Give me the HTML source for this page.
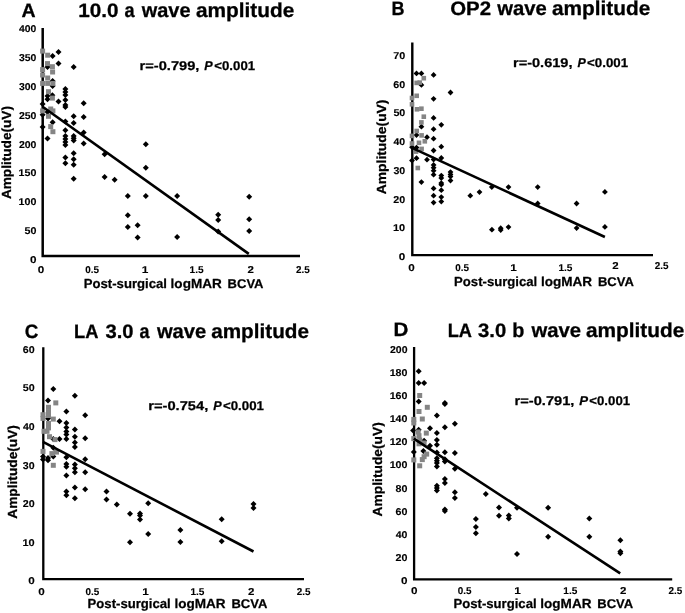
<!DOCTYPE html>
<html lang="en">
<head>
<meta charset="utf-8">
<title>ERG amplitude vs post-surgical logMAR BCVA</title>
<style>
html,body{margin:0;padding:0;background:#fff;}
body{width:685px;height:613px;overflow:hidden;}
svg{display:block;}
text{font-family:"Liberation Sans", sans-serif;font-weight:bold;fill:#000;stroke:#000;stroke-linejoin:round;text-rendering:geometricPrecision;}
.t{stroke-width:0.3;}
.l{stroke-width:0.25;}
.k{stroke-width:0.12;}
.ax{stroke:#000;fill:none;stroke-linecap:butt;}
.reg{stroke:#000;stroke-width:2.6;fill:none;stroke-linecap:butt;}
.d{fill:#000;}
.g{fill:#858585;}
</style>
</head>
<body>
<svg width="685" height="613" viewBox="0 0 685 613">
<rect width="685" height="613" fill="#fff"/>
<g id="panel-A">
<path class="ax" stroke-width="2.5" d="M42.7 28.0V256.0H300.0"/>
<g class="d">
<path d="M58.5 49.0l3.0 3.0l-3.0 3.0l-3.0 -3.0z"/><path d="M52.6 53.0l3.0 3.0l-3.0 3.0l-3.0 -3.0z"/><path d="M58.5 60.6l3.0 3.0l-3.0 3.0l-3.0 -3.0z"/><path d="M73.7 64.1l3.0 3.0l-3.0 3.0l-3.0 -3.0z"/><path d="M47.5 64.0l3.0 3.0l-3.0 3.0l-3.0 -3.0z"/><path d="M52.6 78.0l3.0 3.0l-3.0 3.0l-3.0 -3.0z"/><path d="M52.6 83.0l3.0 3.0l-3.0 3.0l-3.0 -3.0z"/><path d="M65.4 86.0l3.0 3.0l-3.0 3.0l-3.0 -3.0z"/><path d="M65.4 89.0l3.0 3.0l-3.0 3.0l-3.0 -3.0z"/><path d="M65.4 92.0l3.0 3.0l-3.0 3.0l-3.0 -3.0z"/><path d="M47.5 93.0l3.0 3.0l-3.0 3.0l-3.0 -3.0z"/><path d="M52.4 92.2l3.0 3.0l-3.0 3.0l-3.0 -3.0z"/><path d="M47.5 96.3l3.0 3.0l-3.0 3.0l-3.0 -3.0z"/><path d="M58.5 98.5l3.0 3.0l-3.0 3.0l-3.0 -3.0z"/><path d="M65.4 97.0l3.0 3.0l-3.0 3.0l-3.0 -3.0z"/><path d="M83.7 100.3l3.0 3.0l-3.0 3.0l-3.0 -3.0z"/><path d="M65.4 102.0l3.0 3.0l-3.0 3.0l-3.0 -3.0z"/><path d="M65.4 104.0l3.0 3.0l-3.0 3.0l-3.0 -3.0z"/><path d="M42.6 101.0l3.0 3.0l-3.0 3.0l-3.0 -3.0z"/><path d="M42.6 111.8l3.0 3.0l-3.0 3.0l-3.0 -3.0z"/><path d="M47.5 108.9l3.0 3.0l-3.0 3.0l-3.0 -3.0z"/><path d="M73.7 113.3l3.0 3.0l-3.0 3.0l-3.0 -3.0z"/><path d="M83.7 114.0l3.0 3.0l-3.0 3.0l-3.0 -3.0z"/><path d="M52.6 119.2l3.0 3.0l-3.0 3.0l-3.0 -3.0z"/><path d="M65.4 118.4l3.0 3.0l-3.0 3.0l-3.0 -3.0z"/><path d="M73.7 119.9l3.0 3.0l-3.0 3.0l-3.0 -3.0z"/><path d="M42.6 124.0l3.0 3.0l-3.0 3.0l-3.0 -3.0z"/><path d="M65.4 127.2l3.0 3.0l-3.0 3.0l-3.0 -3.0z"/><path d="M83.7 129.4l3.0 3.0l-3.0 3.0l-3.0 -3.0z"/><path d="M47.5 135.6l3.0 3.0l-3.0 3.0l-3.0 -3.0z"/><path d="M65.4 133.1l3.0 3.0l-3.0 3.0l-3.0 -3.0z"/><path d="M65.4 136.0l3.0 3.0l-3.0 3.0l-3.0 -3.0z"/><path d="M65.4 139.0l3.0 3.0l-3.0 3.0l-3.0 -3.0z"/><path d="M65.4 141.9l3.0 3.0l-3.0 3.0l-3.0 -3.0z"/><path d="M73.7 133.1l3.0 3.0l-3.0 3.0l-3.0 -3.0z"/><path d="M73.7 135.3l3.0 3.0l-3.0 3.0l-3.0 -3.0z"/><path d="M73.7 137.5l3.0 3.0l-3.0 3.0l-3.0 -3.0z"/><path d="M83.7 140.5l3.0 3.0l-3.0 3.0l-3.0 -3.0z"/><path d="M73.7 150.3l3.0 3.0l-3.0 3.0l-3.0 -3.0z"/><path d="M65.4 154.4l3.0 3.0l-3.0 3.0l-3.0 -3.0z"/><path d="M73.7 156.2l3.0 3.0l-3.0 3.0l-3.0 -3.0z"/><path d="M65.4 160.3l3.0 3.0l-3.0 3.0l-3.0 -3.0z"/><path d="M73.7 161.7l3.0 3.0l-3.0 3.0l-3.0 -3.0z"/><path d="M104.6 151.2l3.0 3.0l-3.0 3.0l-3.0 -3.0z"/><path d="M73.7 175.7l3.0 3.0l-3.0 3.0l-3.0 -3.0z"/><path d="M104.6 173.9l3.0 3.0l-3.0 3.0l-3.0 -3.0z"/><path d="M114.6 176.7l3.0 3.0l-3.0 3.0l-3.0 -3.0z"/><path d="M145.8 141.2l3.0 3.0l-3.0 3.0l-3.0 -3.0z"/><path d="M145.8 164.7l3.0 3.0l-3.0 3.0l-3.0 -3.0z"/><path d="M145.8 192.9l3.0 3.0l-3.0 3.0l-3.0 -3.0z"/><path d="M127.8 192.9l3.0 3.0l-3.0 3.0l-3.0 -3.0z"/><path d="M127.8 212.2l3.0 3.0l-3.0 3.0l-3.0 -3.0z"/><path d="M127.8 223.9l3.0 3.0l-3.0 3.0l-3.0 -3.0z"/><path d="M137.6 222.3l3.0 3.0l-3.0 3.0l-3.0 -3.0z"/><path d="M137.6 234.5l3.0 3.0l-3.0 3.0l-3.0 -3.0z"/><path d="M177.1 192.9l3.0 3.0l-3.0 3.0l-3.0 -3.0z"/><path d="M177.1 234.0l3.0 3.0l-3.0 3.0l-3.0 -3.0z"/><path d="M218.2 211.7l3.0 3.0l-3.0 3.0l-3.0 -3.0z"/><path d="M218.2 216.9l3.0 3.0l-3.0 3.0l-3.0 -3.0z"/><path d="M218.2 228.6l3.0 3.0l-3.0 3.0l-3.0 -3.0z"/><path d="M249.2 193.8l3.0 3.0l-3.0 3.0l-3.0 -3.0z"/><path d="M249.2 216.2l3.0 3.0l-3.0 3.0l-3.0 -3.0z"/><path d="M249.2 228.1l3.0 3.0l-3.0 3.0l-3.0 -3.0z"/>
</g>
<g class="g">
<rect x="40.1" y="48.6" width="5.0" height="5.0"/><rect x="45.2" y="52.7" width="5.0" height="5.0"/><rect x="45.0" y="61.1" width="5.0" height="5.0"/><rect x="49.9" y="64.2" width="5.0" height="5.0"/><rect x="40.1" y="67.1" width="5.0" height="5.0"/><rect x="50.1" y="69.5" width="5.0" height="5.0"/><rect x="40.1" y="72.5" width="5.0" height="5.0"/><rect x="45.2" y="75.5" width="5.0" height="5.0"/><rect x="40.1" y="80.9" width="5.0" height="5.0"/><rect x="45.2" y="80.9" width="5.0" height="5.0"/><rect x="50.4" y="80.9" width="5.0" height="5.0"/><rect x="46.0" y="89.2" width="5.0" height="5.0"/><rect x="49.9" y="95.6" width="5.0" height="5.0"/><rect x="48.2" y="106.5" width="5.0" height="5.0"/><rect x="50.4" y="108.4" width="5.0" height="5.0"/><rect x="40.1" y="108.4" width="5.0" height="5.0"/><rect x="46.0" y="113.8" width="5.0" height="5.0"/><rect x="48.2" y="124.1" width="5.0" height="5.0"/><rect x="50.4" y="129.2" width="5.0" height="5.0"/>
</g>
<path class="reg" d="M42.6 106.7L248.8 253.9"/>
</g>
<g id="panel-B">
<path class="ax" stroke-width="2.4" d="M412.3 42.6V255.1H653.0"/>
<g class="d">
<path d="M416.5 70.5l2.9 2.9l-2.9 2.9l-2.9 -2.9z"/><path d="M421.4 70.5l2.9 2.9l-2.9 2.9l-2.9 -2.9z"/><path d="M433.6 72.0l2.9 2.9l-2.9 2.9l-2.9 -2.9z"/><path d="M421.4 82.0l2.9 2.9l-2.9 2.9l-2.9 -2.9z"/><path d="M450.5 89.6l2.9 2.9l-2.9 2.9l-2.9 -2.9z"/><path d="M433.6 95.9l2.9 2.9l-2.9 2.9l-2.9 -2.9z"/><path d="M433.6 115.0l2.9 2.9l-2.9 2.9l-2.9 -2.9z"/><path d="M441.3 121.9l2.9 2.9l-2.9 2.9l-2.9 -2.9z"/><path d="M421.4 123.8l2.9 2.9l-2.9 2.9l-2.9 -2.9z"/><path d="M433.6 126.3l2.9 2.9l-2.9 2.9l-2.9 -2.9z"/><path d="M416.5 132.2l2.9 2.9l-2.9 2.9l-2.9 -2.9z"/><path d="M427.0 134.3l2.9 2.9l-2.9 2.9l-2.9 -2.9z"/><path d="M433.6 135.8l2.9 2.9l-2.9 2.9l-2.9 -2.9z"/><path d="M441.3 143.8l2.9 2.9l-2.9 2.9l-2.9 -2.9z"/><path d="M412.0 144.3l2.9 2.9l-2.9 2.9l-2.9 -2.9z"/><path d="M416.5 144.7l2.9 2.9l-2.9 2.9l-2.9 -2.9z"/><path d="M433.6 147.6l2.9 2.9l-2.9 2.9l-2.9 -2.9z"/><path d="M441.3 155.1l2.9 2.9l-2.9 2.9l-2.9 -2.9z"/><path d="M416.5 155.3l2.9 2.9l-2.9 2.9l-2.9 -2.9z"/><path d="M427.0 156.8l2.9 2.9l-2.9 2.9l-2.9 -2.9z"/><path d="M433.6 156.6l2.9 2.9l-2.9 2.9l-2.9 -2.9z"/><path d="M412.0 157.6l2.9 2.9l-2.9 2.9l-2.9 -2.9z"/><path d="M433.6 162.0l2.9 2.9l-2.9 2.9l-2.9 -2.9z"/><path d="M433.6 164.8l2.9 2.9l-2.9 2.9l-2.9 -2.9z"/><path d="M433.6 167.8l2.9 2.9l-2.9 2.9l-2.9 -2.9z"/><path d="M433.6 171.8l2.9 2.9l-2.9 2.9l-2.9 -2.9z"/><path d="M441.3 172.7l2.9 2.9l-2.9 2.9l-2.9 -2.9z"/><path d="M441.3 175.2l2.9 2.9l-2.9 2.9l-2.9 -2.9z"/><path d="M441.3 180.2l2.9 2.9l-2.9 2.9l-2.9 -2.9z"/><path d="M441.3 181.8l2.9 2.9l-2.9 2.9l-2.9 -2.9z"/><path d="M450.5 169.2l2.9 2.9l-2.9 2.9l-2.9 -2.9z"/><path d="M450.5 171.5l2.9 2.9l-2.9 2.9l-2.9 -2.9z"/><path d="M450.5 173.7l2.9 2.9l-2.9 2.9l-2.9 -2.9z"/><path d="M450.5 177.7l2.9 2.9l-2.9 2.9l-2.9 -2.9z"/><path d="M421.4 179.2l2.9 2.9l-2.9 2.9l-2.9 -2.9z"/><path d="M433.6 185.5l2.9 2.9l-2.9 2.9l-2.9 -2.9z"/><path d="M441.3 187.3l2.9 2.9l-2.9 2.9l-2.9 -2.9z"/><path d="M433.6 192.8l2.9 2.9l-2.9 2.9l-2.9 -2.9z"/><path d="M441.3 194.2l2.9 2.9l-2.9 2.9l-2.9 -2.9z"/><path d="M433.6 199.7l2.9 2.9l-2.9 2.9l-2.9 -2.9z"/><path d="M441.3 198.7l2.9 2.9l-2.9 2.9l-2.9 -2.9z"/><path d="M470.3 192.8l2.9 2.9l-2.9 2.9l-2.9 -2.9z"/><path d="M479.5 189.2l2.9 2.9l-2.9 2.9l-2.9 -2.9z"/><path d="M491.8 184.2l2.9 2.9l-2.9 2.9l-2.9 -2.9z"/><path d="M508.5 184.2l2.9 2.9l-2.9 2.9l-2.9 -2.9z"/><path d="M537.7 184.2l2.9 2.9l-2.9 2.9l-2.9 -2.9z"/><path d="M537.7 200.6l2.9 2.9l-2.9 2.9l-2.9 -2.9z"/><path d="M576.6 200.6l2.9 2.9l-2.9 2.9l-2.9 -2.9z"/><path d="M604.9 189.0l2.9 2.9l-2.9 2.9l-2.9 -2.9z"/><path d="M491.9 226.8l2.9 2.9l-2.9 2.9l-2.9 -2.9z"/><path d="M500.7 225.3l2.9 2.9l-2.9 2.9l-2.9 -2.9z"/><path d="M500.7 227.2l2.9 2.9l-2.9 2.9l-2.9 -2.9z"/><path d="M508.5 224.2l2.9 2.9l-2.9 2.9l-2.9 -2.9z"/><path d="M576.6 225.2l2.9 2.9l-2.9 2.9l-2.9 -2.9z"/><path d="M604.9 224.0l2.9 2.9l-2.9 2.9l-2.9 -2.9z"/>
</g>
<g class="g">
<rect x="421.5" y="75.9" width="4.6" height="4.6"/><rect x="414.4" y="80.6" width="4.6" height="4.6"/><rect x="417.4" y="80.3" width="4.6" height="4.6"/><rect x="414.4" y="93.5" width="4.6" height="4.6"/><rect x="409.7" y="95.7" width="4.6" height="4.6"/><rect x="409.7" y="102.0" width="4.6" height="4.6"/><rect x="414.7" y="107.0" width="4.6" height="4.6"/><rect x="419.1" y="106.4" width="4.6" height="4.6"/><rect x="421.5" y="114.4" width="4.6" height="4.6"/><rect x="419.1" y="120.1" width="4.6" height="4.6"/><rect x="414.4" y="128.7" width="4.6" height="4.6"/><rect x="409.7" y="133.6" width="4.6" height="4.6"/><rect x="419.3" y="133.1" width="4.6" height="4.6"/><rect x="422.5" y="139.0" width="4.6" height="4.6"/><rect x="416.7" y="140.5" width="4.6" height="4.6"/><rect x="409.7" y="141.2" width="4.6" height="4.6"/><rect x="419.3" y="146.6" width="4.6" height="4.6"/><rect x="413.7" y="149.3" width="4.6" height="4.6"/><rect x="415.5" y="165.7" width="4.6" height="4.6"/>
</g>
<path class="reg" d="M412.0 147.9L604.9 237.0"/>
</g>
<g id="panel-C">
<path class="ax" stroke-width="2.3" d="M43.3 347.3V579.2H304.0"/>
<g class="d">
<path d="M53.3 385.9l3.0 3.0l-3.0 3.0l-3.0 -3.0z"/><path d="M74.9 392.8l3.0 3.0l-3.0 3.0l-3.0 -3.0z"/><path d="M48.0 397.5l3.0 3.0l-3.0 3.0l-3.0 -3.0z"/><path d="M66.4 408.4l3.0 3.0l-3.0 3.0l-3.0 -3.0z"/><path d="M85.2 412.2l3.0 3.0l-3.0 3.0l-3.0 -3.0z"/><path d="M48.0 415.5l3.0 3.0l-3.0 3.0l-3.0 -3.0z"/><path d="M59.5 418.2l3.0 3.0l-3.0 3.0l-3.0 -3.0z"/><path d="M66.4 419.9l3.0 3.0l-3.0 3.0l-3.0 -3.0z"/><path d="M66.4 424.4l3.0 3.0l-3.0 3.0l-3.0 -3.0z"/><path d="M74.9 426.5l3.0 3.0l-3.0 3.0l-3.0 -3.0z"/><path d="M66.4 428.6l3.0 3.0l-3.0 3.0l-3.0 -3.0z"/><path d="M66.4 431.5l3.0 3.0l-3.0 3.0l-3.0 -3.0z"/><path d="M66.4 435.9l3.0 3.0l-3.0 3.0l-3.0 -3.0z"/><path d="M74.9 433.7l3.0 3.0l-3.0 3.0l-3.0 -3.0z"/><path d="M85.2 435.2l3.0 3.0l-3.0 3.0l-3.0 -3.0z"/><path d="M59.5 435.9l3.0 3.0l-3.0 3.0l-3.0 -3.0z"/><path d="M53.3 435.9l3.0 3.0l-3.0 3.0l-3.0 -3.0z"/><path d="M74.9 439.6l3.0 3.0l-3.0 3.0l-3.0 -3.0z"/><path d="M74.9 444.0l3.0 3.0l-3.0 3.0l-3.0 -3.0z"/><path d="M53.3 444.7l3.0 3.0l-3.0 3.0l-3.0 -3.0z"/><path d="M53.3 453.5l3.0 3.0l-3.0 3.0l-3.0 -3.0z"/><path d="M43.0 453.5l3.0 3.0l-3.0 3.0l-3.0 -3.0z"/><path d="M43.0 456.5l3.0 3.0l-3.0 3.0l-3.0 -3.0z"/><path d="M48.0 455.0l3.0 3.0l-3.0 3.0l-3.0 -3.0z"/><path d="M48.0 457.2l3.0 3.0l-3.0 3.0l-3.0 -3.0z"/><path d="M66.4 454.3l3.0 3.0l-3.0 3.0l-3.0 -3.0z"/><path d="M85.2 456.2l3.0 3.0l-3.0 3.0l-3.0 -3.0z"/><path d="M66.4 460.9l3.0 3.0l-3.0 3.0l-3.0 -3.0z"/><path d="M66.4 463.8l3.0 3.0l-3.0 3.0l-3.0 -3.0z"/><path d="M74.9 461.6l3.0 3.0l-3.0 3.0l-3.0 -3.0z"/><path d="M74.9 465.3l3.0 3.0l-3.0 3.0l-3.0 -3.0z"/><path d="M74.9 469.2l3.0 3.0l-3.0 3.0l-3.0 -3.0z"/><path d="M85.2 469.2l3.0 3.0l-3.0 3.0l-3.0 -3.0z"/><path d="M66.4 472.5l3.0 3.0l-3.0 3.0l-3.0 -3.0z"/><path d="M74.9 484.6l3.0 3.0l-3.0 3.0l-3.0 -3.0z"/><path d="M66.4 488.6l3.0 3.0l-3.0 3.0l-3.0 -3.0z"/><path d="M66.4 492.3l3.0 3.0l-3.0 3.0l-3.0 -3.0z"/><path d="M85.2 486.3l3.0 3.0l-3.0 3.0l-3.0 -3.0z"/><path d="M74.9 495.3l3.0 3.0l-3.0 3.0l-3.0 -3.0z"/><path d="M106.5 488.6l3.0 3.0l-3.0 3.0l-3.0 -3.0z"/><path d="M106.5 496.4l3.0 3.0l-3.0 3.0l-3.0 -3.0z"/><path d="M116.8 501.5l3.0 3.0l-3.0 3.0l-3.0 -3.0z"/><path d="M130.0 510.8l3.0 3.0l-3.0 3.0l-3.0 -3.0z"/><path d="M130.0 539.2l3.0 3.0l-3.0 3.0l-3.0 -3.0z"/><path d="M140.0 510.5l3.0 3.0l-3.0 3.0l-3.0 -3.0z"/><path d="M140.0 512.5l3.0 3.0l-3.0 3.0l-3.0 -3.0z"/><path d="M140.0 516.5l3.0 3.0l-3.0 3.0l-3.0 -3.0z"/><path d="M148.2 500.3l3.0 3.0l-3.0 3.0l-3.0 -3.0z"/><path d="M148.2 531.1l3.0 3.0l-3.0 3.0l-3.0 -3.0z"/><path d="M180.4 526.9l3.0 3.0l-3.0 3.0l-3.0 -3.0z"/><path d="M180.4 539.1l3.0 3.0l-3.0 3.0l-3.0 -3.0z"/><path d="M221.7 516.3l3.0 3.0l-3.0 3.0l-3.0 -3.0z"/><path d="M221.7 538.2l3.0 3.0l-3.0 3.0l-3.0 -3.0z"/><path d="M253.5 501.0l3.0 3.0l-3.0 3.0l-3.0 -3.0z"/><path d="M253.5 505.0l3.0 3.0l-3.0 3.0l-3.0 -3.0z"/>
</g>
<g class="g">
<rect x="46.0" y="413.0" width="5.0" height="5.0"/><rect x="53.3" y="400.4" width="5.0" height="5.0"/><rect x="46.0" y="404.8" width="5.0" height="5.0"/><rect x="46.0" y="409.2" width="5.0" height="5.0"/><rect x="40.5" y="412.2" width="5.0" height="5.0"/><rect x="40.5" y="415.9" width="5.0" height="5.0"/><rect x="50.8" y="416.6" width="5.0" height="5.0"/><rect x="46.0" y="421.0" width="5.0" height="5.0"/><rect x="46.0" y="425.4" width="5.0" height="5.0"/><rect x="41.5" y="428.8" width="5.0" height="5.0"/><rect x="44.5" y="428.8" width="5.0" height="5.0"/><rect x="47.0" y="434.2" width="5.0" height="5.0"/><rect x="52.5" y="437.1" width="5.0" height="5.0"/><rect x="40.5" y="448.9" width="5.0" height="5.0"/><rect x="54.0" y="449.6" width="5.0" height="5.0"/><rect x="49.4" y="451.1" width="5.0" height="5.0"/><rect x="50.8" y="462.8" width="5.0" height="5.0"/>
</g>
<path class="reg" d="M43.0 441.9L253.5 551.5"/>
</g>
<g id="panel-D">
<path class="ax" stroke-width="2.3" d="M414.1 346.9V579.3H672.2"/>
<g class="d">
<path d="M418.7 368.3l3.0 3.0l-3.0 3.0l-3.0 -3.0z"/><path d="M418.7 380.0l3.0 3.0l-3.0 3.0l-3.0 -3.0z"/><path d="M424.1 380.0l3.0 3.0l-3.0 3.0l-3.0 -3.0z"/><path d="M418.7 398.4l3.0 3.0l-3.0 3.0l-3.0 -3.0z"/><path d="M444.9 399.9l3.0 3.0l-3.0 3.0l-3.0 -3.0z"/><path d="M444.9 400.9l3.0 3.0l-3.0 3.0l-3.0 -3.0z"/><path d="M436.9 412.6l3.0 3.0l-3.0 3.0l-3.0 -3.0z"/><path d="M454.9 420.7l3.0 3.0l-3.0 3.0l-3.0 -3.0z"/><path d="M444.9 424.2l3.0 3.0l-3.0 3.0l-3.0 -3.0z"/><path d="M430.0 425.3l3.0 3.0l-3.0 3.0l-3.0 -3.0z"/><path d="M418.7 426.8l3.0 3.0l-3.0 3.0l-3.0 -3.0z"/><path d="M413.1 427.6l3.0 3.0l-3.0 3.0l-3.0 -3.0z"/><path d="M436.9 430.1l3.0 3.0l-3.0 3.0l-3.0 -3.0z"/><path d="M436.9 437.1l3.0 3.0l-3.0 3.0l-3.0 -3.0z"/><path d="M424.1 437.8l3.0 3.0l-3.0 3.0l-3.0 -3.0z"/><path d="M436.9 441.8l3.0 3.0l-3.0 3.0l-3.0 -3.0z"/><path d="M430.0 442.7l3.0 3.0l-3.0 3.0l-3.0 -3.0z"/><path d="M413.8 448.9l3.0 3.0l-3.0 3.0l-3.0 -3.0z"/><path d="M423.4 448.1l3.0 3.0l-3.0 3.0l-3.0 -3.0z"/><path d="M436.9 449.6l3.0 3.0l-3.0 3.0l-3.0 -3.0z"/><path d="M444.9 449.3l3.0 3.0l-3.0 3.0l-3.0 -3.0z"/><path d="M454.9 449.9l3.0 3.0l-3.0 3.0l-3.0 -3.0z"/><path d="M436.9 455.2l3.0 3.0l-3.0 3.0l-3.0 -3.0z"/><path d="M436.9 457.7l3.0 3.0l-3.0 3.0l-3.0 -3.0z"/><path d="M436.9 459.9l3.0 3.0l-3.0 3.0l-3.0 -3.0z"/><path d="M436.9 463.5l3.0 3.0l-3.0 3.0l-3.0 -3.0z"/><path d="M444.9 456.2l3.0 3.0l-3.0 3.0l-3.0 -3.0z"/><path d="M444.9 458.4l3.0 3.0l-3.0 3.0l-3.0 -3.0z"/><path d="M454.9 465.7l3.0 3.0l-3.0 3.0l-3.0 -3.0z"/><path d="M444.9 476.0l3.0 3.0l-3.0 3.0l-3.0 -3.0z"/><path d="M444.9 480.0l3.0 3.0l-3.0 3.0l-3.0 -3.0z"/><path d="M436.9 482.8l3.0 3.0l-3.0 3.0l-3.0 -3.0z"/><path d="M436.9 485.0l3.0 3.0l-3.0 3.0l-3.0 -3.0z"/><path d="M436.9 487.5l3.0 3.0l-3.0 3.0l-3.0 -3.0z"/><path d="M454.9 489.2l3.0 3.0l-3.0 3.0l-3.0 -3.0z"/><path d="M454.9 495.1l3.0 3.0l-3.0 3.0l-3.0 -3.0z"/><path d="M485.8 491.0l3.0 3.0l-3.0 3.0l-3.0 -3.0z"/><path d="M444.9 506.4l3.0 3.0l-3.0 3.0l-3.0 -3.0z"/><path d="M444.9 508.1l3.0 3.0l-3.0 3.0l-3.0 -3.0z"/><path d="M475.9 515.9l3.0 3.0l-3.0 3.0l-3.0 -3.0z"/><path d="M475.9 524.0l3.0 3.0l-3.0 3.0l-3.0 -3.0z"/><path d="M475.9 530.2l3.0 3.0l-3.0 3.0l-3.0 -3.0z"/><path d="M499.0 504.6l3.0 3.0l-3.0 3.0l-3.0 -3.0z"/><path d="M499.0 512.8l3.0 3.0l-3.0 3.0l-3.0 -3.0z"/><path d="M508.8 512.5l3.0 3.0l-3.0 3.0l-3.0 -3.0z"/><path d="M508.8 515.6l3.0 3.0l-3.0 3.0l-3.0 -3.0z"/><path d="M517.0 504.8l3.0 3.0l-3.0 3.0l-3.0 -3.0z"/><path d="M517.0 550.9l3.0 3.0l-3.0 3.0l-3.0 -3.0z"/><path d="M548.1 504.8l3.0 3.0l-3.0 3.0l-3.0 -3.0z"/><path d="M548.1 533.8l3.0 3.0l-3.0 3.0l-3.0 -3.0z"/><path d="M589.3 515.6l3.0 3.0l-3.0 3.0l-3.0 -3.0z"/><path d="M589.3 533.8l3.0 3.0l-3.0 3.0l-3.0 -3.0z"/><path d="M620.4 537.2l3.0 3.0l-3.0 3.0l-3.0 -3.0z"/><path d="M620.4 548.6l3.0 3.0l-3.0 3.0l-3.0 -3.0z"/><path d="M620.4 550.3l3.0 3.0l-3.0 3.0l-3.0 -3.0z"/>
</g>
<g class="g">
<rect x="417.2" y="393.0" width="5.0" height="5.0"/><rect x="424.8" y="404.8" width="5.0" height="5.0"/><rect x="416.5" y="409.0" width="5.0" height="5.0"/><rect x="419.8" y="416.5" width="5.0" height="5.0"/><rect x="411.3" y="416.9" width="5.0" height="5.0"/><rect x="411.3" y="420.5" width="5.0" height="5.0"/><rect x="423.8" y="430.6" width="5.0" height="5.0"/><rect x="415.7" y="429.5" width="5.0" height="5.0"/><rect x="416.5" y="433.2" width="5.0" height="5.0"/><rect x="411.3" y="436.1" width="5.0" height="5.0"/><rect x="417.2" y="437.6" width="5.0" height="5.0"/><rect x="416.5" y="441.3" width="5.0" height="5.0"/><rect x="421.6" y="440.5" width="5.0" height="5.0"/><rect x="424.2" y="451.6" width="5.0" height="5.0"/><rect x="421.6" y="454.2" width="5.0" height="5.0"/><rect x="419.8" y="457.1" width="5.0" height="5.0"/><rect x="411.3" y="457.4" width="5.0" height="5.0"/><rect x="417.2" y="463.3" width="5.0" height="5.0"/>
</g>
<path class="reg" d="M413.8 438.6L620.2 573.4"/>
</g>
<g id="labels">
<text x="21.6" y="16.7" font-size="19.4" textLength="14.1" lengthAdjust="spacingAndGlyphs" class="t">A</text>
<text class="t"><tspan x="78.2" y="16.7" font-size="19.4" textLength="40.3" lengthAdjust="spacingAndGlyphs">10.0</tspan> <tspan x="124.4" y="16.7" font-size="20.2" textLength="10.1" lengthAdjust="spacingAndGlyphs">a</tspan> <tspan x="141.7" y="16.7" font-size="20.2" textLength="48.8" lengthAdjust="spacingAndGlyphs">wave</tspan> <tspan x="196.0" y="16.7" font-size="20.2" textLength="98.3" lengthAdjust="spacingAndGlyphs">amplitude</tspan></text>
<text x="29.9" y="262.8" font-size="9.9" textLength="6.5" lengthAdjust="spacingAndGlyphs" class="k">0</text>
<text x="24.5" y="234.0" font-size="9.9" textLength="11.9" lengthAdjust="spacingAndGlyphs" class="k">50</text>
<text x="18.6" y="205.1" font-size="9.9" textLength="17.8" lengthAdjust="spacingAndGlyphs" class="k">100</text>
<text x="18.6" y="176.3" font-size="9.9" textLength="17.8" lengthAdjust="spacingAndGlyphs" class="k">150</text>
<text x="18.9" y="147.5" font-size="9.9" textLength="17.5" lengthAdjust="spacingAndGlyphs" class="k">200</text>
<text x="18.9" y="118.6" font-size="9.9" textLength="17.5" lengthAdjust="spacingAndGlyphs" class="k">250</text>
<text x="19.0" y="89.8" font-size="9.9" textLength="17.4" lengthAdjust="spacingAndGlyphs" class="k">300</text>
<text x="19.0" y="61.0" font-size="9.9" textLength="17.4" lengthAdjust="spacingAndGlyphs" class="k">350</text>
<text x="19.1" y="32.2" font-size="9.9" textLength="17.3" lengthAdjust="spacingAndGlyphs" class="k">400</text>
<text x="37.8" y="272.5" font-size="9.9" textLength="6.5" lengthAdjust="spacingAndGlyphs" class="k">0</text>
<text x="85.2" y="272.5" font-size="9.9" textLength="13.7" lengthAdjust="spacingAndGlyphs" class="k">0.5</text>
<text x="141.8" y="272.5" font-size="9.9" textLength="6.6" lengthAdjust="spacingAndGlyphs" class="k">1</text>
<text x="189.6" y="272.5" font-size="9.9" textLength="14.0" lengthAdjust="spacingAndGlyphs" class="k">1.5</text>
<text x="247.4" y="272.5" font-size="9.9" textLength="6.4" lengthAdjust="spacingAndGlyphs" class="k">2</text>
<text x="296.1" y="272.5" font-size="9.9" textLength="13.7" lengthAdjust="spacingAndGlyphs" class="k">2.5</text>
<text class="l"><tspan x="139.6" y="69.8" font-size="12.7" textLength="59.8" lengthAdjust="spacingAndGlyphs">r=-0.799,</tspan> <tspan x="204.3" y="69.8" font-size="12.7" textLength="8.4" lengthAdjust="spacingAndGlyphs" font-style="italic">P</tspan> <tspan x="214.3" y="69.8" font-size="12.7" textLength="40.8" lengthAdjust="spacingAndGlyphs">&lt;0.001</tspan></text>
<text class="l"><tspan x="83.8" y="288.4" font-size="13.1" textLength="83.1" lengthAdjust="spacingAndGlyphs">Post-surgical</tspan> <tspan x="170.6" y="288.4" font-size="13.1" textLength="51.2" lengthAdjust="spacingAndGlyphs">logMAR</tspan> <tspan x="227.6" y="288.4" font-size="12.7" textLength="35.9" lengthAdjust="spacingAndGlyphs">BCVA</tspan></text>
<text x="11.2" y="199.1" font-size="13.2" textLength="93.1" lengthAdjust="spacingAndGlyphs" transform="rotate(-90 11.2 199.1)" class="l">Amplitude(uV)</text>
<text x="391.6" y="15.3" font-size="19.4" textLength="13.0" lengthAdjust="spacingAndGlyphs" class="t">B</text>
<text class="t"><tspan x="450.2" y="15.3" font-size="19.4" textLength="40.9" lengthAdjust="spacingAndGlyphs">OP2</tspan> <tspan x="497.3" y="15.3" font-size="20.2" textLength="49.6" lengthAdjust="spacingAndGlyphs">wave</tspan> <tspan x="552.0" y="15.3" font-size="20.2" textLength="98.3" lengthAdjust="spacingAndGlyphs">amplitude</tspan></text>
<text x="398.8" y="260.2" font-size="9.9" textLength="6.5" lengthAdjust="spacingAndGlyphs" class="k">0</text>
<text x="393.0" y="231.4" font-size="9.9" textLength="12.2" lengthAdjust="spacingAndGlyphs" class="k">10</text>
<text x="393.3" y="202.7" font-size="9.9" textLength="11.9" lengthAdjust="spacingAndGlyphs" class="k">20</text>
<text x="393.4" y="173.9" font-size="9.9" textLength="11.8" lengthAdjust="spacingAndGlyphs" class="k">30</text>
<text x="393.5" y="145.2" font-size="9.9" textLength="11.7" lengthAdjust="spacingAndGlyphs" class="k">40</text>
<text x="393.4" y="116.4" font-size="9.9" textLength="11.9" lengthAdjust="spacingAndGlyphs" class="k">50</text>
<text x="393.3" y="87.7" font-size="9.9" textLength="11.9" lengthAdjust="spacingAndGlyphs" class="k">60</text>
<text x="393.3" y="58.9" font-size="9.9" textLength="12.0" lengthAdjust="spacingAndGlyphs" class="k">70</text>
<text x="408.2" y="270.6" font-size="9.9" textLength="6.5" lengthAdjust="spacingAndGlyphs" class="k">0</text>
<text x="455.2" y="270.6" font-size="9.9" textLength="13.7" lengthAdjust="spacingAndGlyphs" class="k">0.5</text>
<text x="510.2" y="270.6" font-size="9.9" textLength="6.6" lengthAdjust="spacingAndGlyphs" class="k">1</text>
<text x="558.4" y="270.6" font-size="9.9" textLength="14.0" lengthAdjust="spacingAndGlyphs" class="k">1.5</text>
<text x="612.3" y="268.9" font-size="9.9" textLength="6.4" lengthAdjust="spacingAndGlyphs" class="k">2</text>
<text x="654.8" y="268.9" font-size="9.9" textLength="13.7" lengthAdjust="spacingAndGlyphs" class="k">2.5</text>
<text class="l"><tspan x="513.0" y="66.9" font-size="12.7" textLength="59.5" lengthAdjust="spacingAndGlyphs">r=-0.619,</tspan> <tspan x="577.5" y="66.9" font-size="12.7" textLength="8.3" lengthAdjust="spacingAndGlyphs" font-style="italic">P</tspan> <tspan x="587.0" y="66.9" font-size="12.7" textLength="41.1" lengthAdjust="spacingAndGlyphs">&lt;0.001</tspan></text>
<text class="l"><tspan x="454.1" y="285.8" font-size="13.1" textLength="83.1" lengthAdjust="spacingAndGlyphs">Post-surgical</tspan> <tspan x="540.9" y="285.8" font-size="13.1" textLength="51.2" lengthAdjust="spacingAndGlyphs">logMAR</tspan> <tspan x="597.9" y="285.8" font-size="12.7" textLength="35.9" lengthAdjust="spacingAndGlyphs">BCVA</tspan></text>
<text x="386.0" y="194.3" font-size="13.2" textLength="94.8" lengthAdjust="spacingAndGlyphs" transform="rotate(-90 386.0 194.3)" class="l">Amplitude(uV)</text>
<text x="24.7" y="338.0" font-size="19.4" textLength="13.6" lengthAdjust="spacingAndGlyphs" class="t">C</text>
<text class="t"><tspan x="74.1" y="338.0" font-size="19.4" textLength="24.4" lengthAdjust="spacingAndGlyphs">LA</tspan> <tspan x="105.4" y="338.0" font-size="19.4" textLength="28.1" lengthAdjust="spacingAndGlyphs">3.0</tspan> <tspan x="139.6" y="338.0" font-size="20.2" textLength="10.0" lengthAdjust="spacingAndGlyphs">a</tspan> <tspan x="156.9" y="338.0" font-size="20.2" textLength="49.4" lengthAdjust="spacingAndGlyphs">wave</tspan> <tspan x="211.2" y="338.0" font-size="20.2" textLength="97.8" lengthAdjust="spacingAndGlyphs">amplitude</tspan></text>
<text x="28.2" y="584.3" font-size="9.9" textLength="6.5" lengthAdjust="spacingAndGlyphs" class="k">0</text>
<text x="22.4" y="545.7" font-size="9.9" textLength="12.2" lengthAdjust="spacingAndGlyphs" class="k">10</text>
<text x="22.7" y="507.1" font-size="9.9" textLength="11.9" lengthAdjust="spacingAndGlyphs" class="k">20</text>
<text x="22.8" y="468.5" font-size="9.9" textLength="11.8" lengthAdjust="spacingAndGlyphs" class="k">30</text>
<text x="22.9" y="429.9" font-size="9.9" textLength="11.7" lengthAdjust="spacingAndGlyphs" class="k">40</text>
<text x="22.8" y="391.3" font-size="9.9" textLength="11.9" lengthAdjust="spacingAndGlyphs" class="k">50</text>
<text x="22.7" y="352.7" font-size="9.9" textLength="11.9" lengthAdjust="spacingAndGlyphs" class="k">60</text>
<text x="38.2" y="594.9" font-size="9.9" textLength="6.5" lengthAdjust="spacingAndGlyphs" class="k">0</text>
<text x="85.6" y="594.9" font-size="9.9" textLength="13.7" lengthAdjust="spacingAndGlyphs" class="k">0.5</text>
<text x="142.2" y="594.9" font-size="9.9" textLength="6.6" lengthAdjust="spacingAndGlyphs" class="k">1</text>
<text x="190.4" y="594.9" font-size="9.9" textLength="14.0" lengthAdjust="spacingAndGlyphs" class="k">1.5</text>
<text x="248.1" y="594.9" font-size="9.9" textLength="6.4" lengthAdjust="spacingAndGlyphs" class="k">2</text>
<text x="296.7" y="594.9" font-size="9.9" textLength="13.7" lengthAdjust="spacingAndGlyphs" class="k">2.5</text>
<text class="l"><tspan x="148.2" y="409.8" font-size="12.7" textLength="60.1" lengthAdjust="spacingAndGlyphs">r=-0.754,</tspan> <tspan x="213.3" y="409.8" font-size="12.7" textLength="8.4" lengthAdjust="spacingAndGlyphs" font-style="italic">P</tspan> <tspan x="222.9" y="409.8" font-size="12.7" textLength="41.1" lengthAdjust="spacingAndGlyphs">&lt;0.001</tspan></text>
<text class="l"><tspan x="87.6" y="608.2" font-size="13.1" textLength="83.1" lengthAdjust="spacingAndGlyphs">Post-surgical</tspan> <tspan x="174.4" y="608.2" font-size="13.1" textLength="51.2" lengthAdjust="spacingAndGlyphs">logMAR</tspan> <tspan x="231.4" y="608.2" font-size="12.7" textLength="35.9" lengthAdjust="spacingAndGlyphs">BCVA</tspan></text>
<text x="17.2" y="518.7" font-size="13.2" textLength="93.6" lengthAdjust="spacingAndGlyphs" transform="rotate(-90 17.2 518.7)" class="l">Amplitude(uV)</text>
<text x="393.5" y="336.3" font-size="19.4" textLength="14.9" lengthAdjust="spacingAndGlyphs" class="t">D</text>
<text class="t"><tspan x="447.7" y="336.5" font-size="19.4" textLength="24.3" lengthAdjust="spacingAndGlyphs">LA</tspan> <tspan x="478.0" y="336.5" font-size="19.4" textLength="28.2" lengthAdjust="spacingAndGlyphs">3.0</tspan> <tspan x="512.3" y="336.5" font-size="20.2" textLength="12.1" lengthAdjust="spacingAndGlyphs">b</tspan> <tspan x="531.4" y="336.5" font-size="20.2" textLength="49.7" lengthAdjust="spacingAndGlyphs">wave</tspan> <tspan x="585.9" y="336.5" font-size="20.2" textLength="98.4" lengthAdjust="spacingAndGlyphs">amplitude</tspan></text>
<text x="401.0" y="584.1" font-size="9.9" textLength="6.5" lengthAdjust="spacingAndGlyphs" class="k">0</text>
<text x="395.5" y="560.9" font-size="9.9" textLength="11.9" lengthAdjust="spacingAndGlyphs" class="k">20</text>
<text x="395.7" y="537.8" font-size="9.9" textLength="11.7" lengthAdjust="spacingAndGlyphs" class="k">40</text>
<text x="395.5" y="514.6" font-size="9.9" textLength="11.9" lengthAdjust="spacingAndGlyphs" class="k">60</text>
<text x="395.6" y="491.5" font-size="9.9" textLength="11.9" lengthAdjust="spacingAndGlyphs" class="k">80</text>
<text x="389.7" y="468.3" font-size="9.9" textLength="17.8" lengthAdjust="spacingAndGlyphs" class="k">100</text>
<text x="389.7" y="445.2" font-size="9.9" textLength="17.8" lengthAdjust="spacingAndGlyphs" class="k">120</text>
<text x="389.7" y="422.0" font-size="9.9" textLength="17.8" lengthAdjust="spacingAndGlyphs" class="k">140</text>
<text x="389.7" y="398.9" font-size="9.9" textLength="17.8" lengthAdjust="spacingAndGlyphs" class="k">160</text>
<text x="389.7" y="375.7" font-size="9.9" textLength="17.8" lengthAdjust="spacingAndGlyphs" class="k">180</text>
<text x="390.0" y="352.6" font-size="9.9" textLength="17.5" lengthAdjust="spacingAndGlyphs" class="k">200</text>
<text x="411.1" y="593.9" font-size="9.9" textLength="6.5" lengthAdjust="spacingAndGlyphs" class="k">0</text>
<text x="457.7" y="593.9" font-size="9.9" textLength="13.7" lengthAdjust="spacingAndGlyphs" class="k">0.5</text>
<text x="514.2" y="593.9" font-size="9.9" textLength="6.6" lengthAdjust="spacingAndGlyphs" class="k">1</text>
<text x="563.3" y="593.9" font-size="9.9" textLength="14.0" lengthAdjust="spacingAndGlyphs" class="k">1.5</text>
<text x="620.0" y="593.9" font-size="9.9" textLength="6.4" lengthAdjust="spacingAndGlyphs" class="k">2</text>
<text x="668.6" y="593.9" font-size="9.9" textLength="13.7" lengthAdjust="spacingAndGlyphs" class="k">2.5</text>
<text class="l"><tspan x="514.6" y="404.8" font-size="12.7" textLength="59.8" lengthAdjust="spacingAndGlyphs">r=-0.791,</tspan> <tspan x="579.3" y="404.8" font-size="12.7" textLength="8.8" lengthAdjust="spacingAndGlyphs" font-style="italic">P</tspan> <tspan x="589.3" y="404.8" font-size="12.7" textLength="40.8" lengthAdjust="spacingAndGlyphs">&lt;0.001</tspan></text>
<text class="l"><tspan x="453.5" y="608.2" font-size="13.1" textLength="83.1" lengthAdjust="spacingAndGlyphs">Post-surgical</tspan> <tspan x="540.3" y="608.2" font-size="13.1" textLength="51.2" lengthAdjust="spacingAndGlyphs">logMAR</tspan> <tspan x="597.3" y="608.2" font-size="12.7" textLength="35.9" lengthAdjust="spacingAndGlyphs">BCVA</tspan></text>
<text x="382.3" y="516.4" font-size="13.2" textLength="94.2" lengthAdjust="spacingAndGlyphs" transform="rotate(-90 382.3 516.4)" class="l">Amplitude(uV)</text>
</g>
</svg>
</body>
</html>
